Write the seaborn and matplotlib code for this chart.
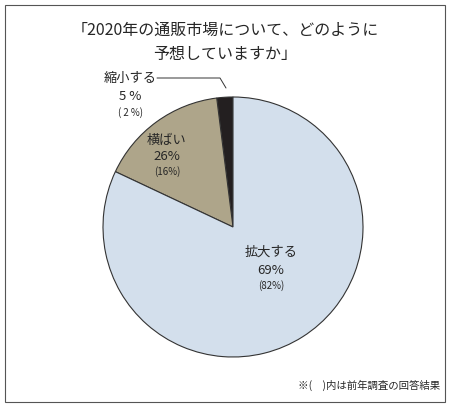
import matplotlib
matplotlib.use("Agg")
import matplotlib.pyplot as plt
import seaborn as sns
from matplotlib.patches import Rectangle

sns.set_theme(style="white")
plt.rcParams['font.family'] = ['Noto Sans CJK JP', 'DejaVu Sans']

labels = ['縮小する', '横ばい', '拡大する']
current = ['5', '26', '69']
previous = [2, 16, 82]   # slice sizes in the picture follow the previous year
colors = ['#231f20', '#aea58a', '#d3dfec']

W, H = 450, 407
fig = plt.figure(figsize=(W / 100, H / 100), dpi=100)
fig.patches.append(Rectangle((0.012, 0.012), 0.976, 0.976, transform=fig.transFigure,
                             fill=False, edgecolor='#555555', linewidth=0.8))

cx, cy, r = 233, 227, 130
ax = fig.add_axes([(cx - r) / W, (H - cy - r) / H, 2 * r / W, 2 * r / H])
ax.pie(previous, colors=colors, startangle=90, counterclock=True,
       wedgeprops=dict(edgecolor='#333333', linewidth=0.8))
ax.set_xlim(-1, 1)
ax.set_ylim(-1, 1)
ax.set_aspect('auto')
ax.axis('off')

fig.text(0.5, (H - 30) / H, '「2020年の通販市場について、どのように', ha='center', va='center', fontsize=11.5)
fig.text(0.5, (H - 54) / H, '予想していますか」', ha='center', va='center', fontsize=11.5)

def pt(x, y):
    return (x / W, (H - y) / H)

# 縮小する
fig.text(*pt(130, 78), labels[0], ha='center', va='center', fontsize=9.5)
fig.text(*pt(130, 97), f'{current[0]} %', ha='center', va='center', fontsize=9.5)
fig.text(*pt(130, 113), f'( {previous[0]} %)', ha='center', va='center', fontsize=7)
fig.add_artist(plt.Line2D([157 / W, 220 / W, 226 / W], [(H - 78) / H, (H - 78) / H, (H - 88) / H],
                          color='#333333', linewidth=0.7))
# 横ばい
fig.text(*pt(167, 140), labels[1], ha='center', va='center', fontsize=9.5)
fig.text(*pt(167, 157), f'{current[1]}%', ha='center', va='center', fontsize=9.5)
fig.text(*pt(167, 172), f'({previous[1]}%)', ha='center', va='center', fontsize=7)
# 拡大する
fig.text(*pt(271, 252), labels[2], ha='center', va='center', fontsize=9.5)
fig.text(*pt(271, 270), f'{current[2]}%', ha='center', va='center', fontsize=9.5)
fig.text(*pt(271, 286), f'({previous[2]}%)', ha='center', va='center', fontsize=7)

fig.text(*pt(440, 385), '※(　)内は前年調査の回答結果', ha='right', va='center', fontsize=7.5)

fig.savefig('out.png', dpi=100)
